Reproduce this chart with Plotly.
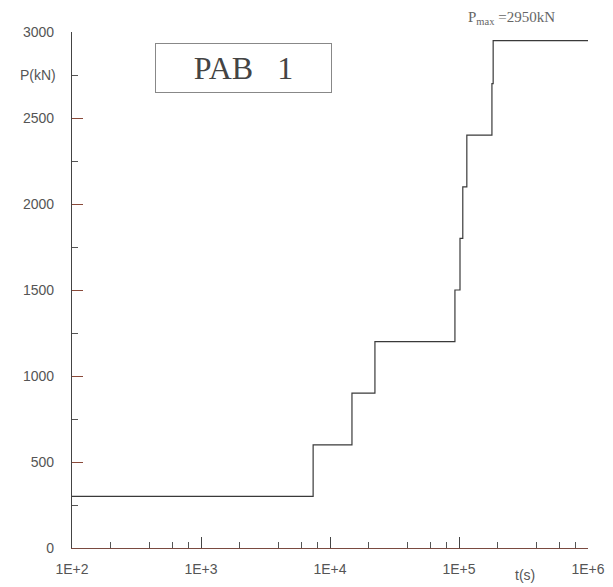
import plotly.graph_objects as go

# Data: step loading history
t_s = [100, 7400, 14800, 22300, 93000, 101800, 107000, 115000, 180000, 184000, 1000000]
p_kN = [300, 600, 900, 1200, 1500, 1800, 2100, 2400, 2700, 2950, 2950]

x_tickvals = [100, 1000, 10000, 100000, 1000000]
x_ticktext = ["1E+2", "1E+3", "1E+4", "1E+5", "1E+6"]
x_minor_mult = [2, 4, 6, 8]

y_tickvals = [0, 500, 1000, 1500, 2000, 2500, 3000]
y_ticktext = ["0", "500", "1000", "1500", "2000", "2500", "3000"]
y_minor = [250, 750, 1250, 1750, 2250, 2750]

x_minor_vals = [m * d for d in x_tickvals[:-1] for m in x_minor_mult]

label_font = dict(family="Liberation Sans, Arial, sans-serif", size=14, color="#555")
serif = "Liberation Serif, DejaVu Serif, serif"

fig = go.Figure()
fig.add_trace(go.Scatter(
    x=t_s, y=p_kN, mode="lines", line=dict(color="#3a3a3a", width=1.2, shape="hv"),
    showlegend=False, hoverinfo="skip"))

# page body has an 8px margin, so the figure is 8px smaller and shifted
fig.update_layout(
    width=605, height=579,
    margin=dict(l=64, r=25, t=24, b=39, autoexpand=False),
    paper_bgcolor="white", plot_bgcolor="white",
    font=label_font,
    xaxis=dict(
        type="log", range=[2, 6], showgrid=False, zeroline=False, automargin=False,
        showline=True, linecolor="#7a4a40", linewidth=1.2,
        tickmode="array", tickvals=x_tickvals, ticktext=x_ticktext,
        ticks="inside", ticklen=11, tickwidth=1, tickcolor="#444",
        ticklabelstandoff=8,
        minor=dict(tickmode="array", tickvals=x_minor_vals, ticks="inside",
                   ticklen=6, tickwidth=1, tickcolor="#555", showgrid=False),
    ),
    yaxis=dict(
        range=[0, 3000], showgrid=False, zeroline=False, automargin=False,
        showline=True, linecolor="#444", linewidth=1.2,
        tickmode="array", tickvals=y_tickvals, ticktext=y_ticktext,
        ticks="inside", ticklen=11, tickwidth=1, tickcolor="#8a4a3a",
        ticklabelstandoff=14,
        minor=dict(tickmode="array", tickvals=y_minor, ticks="inside",
                   ticklen=6, tickwidth=1, tickcolor="#555", showgrid=False),
    ),
)

fig.add_annotation(x=0, y=2750, xref="paper", yref="y", text="P(kN)",
                   showarrow=False, xanchor="right", yanchor="middle", xshift=-14,
                   font=label_font)
fig.add_annotation(x=0.878, y=-0.052, xref="paper", yref="paper", text="t(s)",
                   showarrow=False, xanchor="center", yanchor="middle", font=label_font)
fig.add_annotation(x=0.333, y=0.930, xref="paper", yref="paper", text="PAB   1",
                   showarrow=False, xanchor="center", yanchor="middle",
                   font=dict(family=serif, size=32, color="#444"),
                   bordercolor="#888", borderwidth=1, width=173, height=46)
fig.add_annotation(x=0.851, y=1.027, xref="paper", yref="paper",
                   text="P<sub>max</sub> =2950kN",
                   showarrow=False, xanchor="center", yanchor="middle",
                   font=dict(family=serif, size=15, color="#666"))

fig.write_html("out.html")
